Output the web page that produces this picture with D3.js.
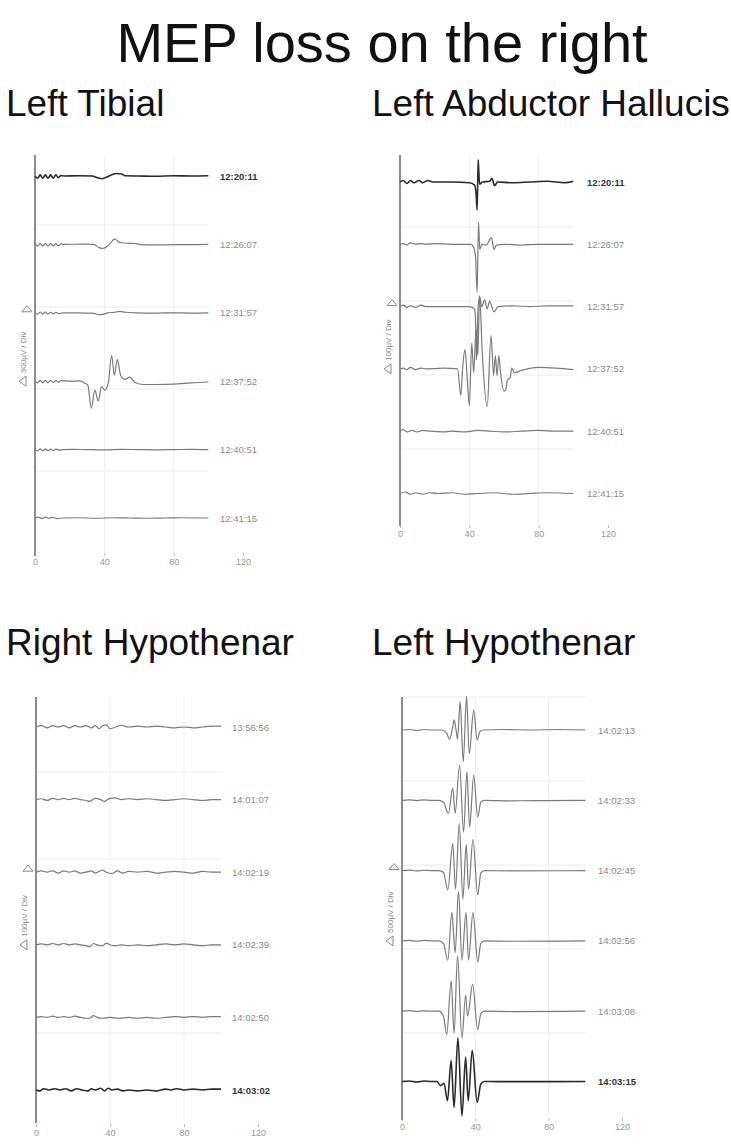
<!DOCTYPE html>
<html><head><meta charset="utf-8">
<script src="https://cdn.jsdelivr.net/npm/d3@7"></script>
<style>body{margin:0;background:#fff}svg{display:block}</style>
</head><body><svg id="c" width="731" height="1144"></svg>
<script>
// ---------------- data ----------------
const chartTitle = "MEP loss on the right";
const panelTitles = ["Left Tibial", "Left Abductor Hallucis", "Right Hypothenar", "Left Hypothenar"];
const xTicks = [0, 40, 80, 120];
const gainLabels = ["300µV / Div", "100µV / Div", "100µV / Div", "500µV / Div"];
const gainUV = [300, 100, 100, 500];
const darkTrace = [0, 0, 5, 5];

const tibialTimes = ["12:20:11", "12:26:07", "12:31:57", "12:37:52", "12:40:51", "12:41:15"];
const tibialTraces = [
  [[0,0],[1.5,-8],[3,4],[4.5,-8],[6,4],[7.5,-8],[9,4],[10.5,-8],[12,4],[13.5,-6],[15,2],[17,0],[25,1],[33,0],[36,-6],[38.5,-10],[41,-5],[44,4],[47,9],[50,7],[52,1],[60,0],[70,-1],[80,1],[90,0],[100,1]],
  [[0,0],[1.5,-6],[3,3],[4.5,-6],[6,3],[7.5,-6],[9,3],[10.5,-6],[12,3],[13.5,-5],[15,2],[17,0],[28,1],[34,0],[37,-12],[39,-15],[41,-10],[43,0],[46,20],[48,10],[50,6],[54,4],[58,3],[62,-1],[70,-2],[80,-1],[90,-1],[100,0]],
  [[0,0],[1.5,-5],[3,3],[4.5,-5],[6,3],[7.5,-5],[9,2],[10.5,-4],[12,2],[14,-3],[16,0],[25,0],[34,-2],[37,-7],[39,-6],[42,0],[46,2],[49,5],[52,2],[58,0],[70,-1],[80,0],[90,-1],[100,0]],
  [[0,0],[1.5,-6],[3,3],[4.5,-6],[6,3],[7.5,-6],[9,3],[10.5,-5],[12,3],[13.5,-4],[15,2],[20,0],[25,1],[26.3,0],[29,-8],[30.5,-15],[32.5,-99],[34.5,-33],[36.5,-73],[38.4,-20],[40.3,-33],[42.3,-7],[44.2,95],[45.8,22],[47.5,80],[49.4,22],[51.9,7],[54.8,15],[57.7,-5],[62.5,-12],[70,-12],[80,-11],[90,-6],[100,-3]],
  [[0,0],[1.5,-5],[3,3],[4.5,-5],[6,3],[7.5,-4],[9,2],[10.5,-4],[12,2],[14,-2],[16,0],[22,1],[30,0],[40,-1],[50,1],[60,0],[70,-1],[80,0],[90,1],[100,0]],
  [[0,0],[2,3],[4,-2],[6,3],[8,-1],[10,2],[13,-2],[16,0],[25,1],[35,-1],[45,1],[55,0],[65,-1],[75,0],[85,1],[100,0]]
];

const hallucisTimes = ["12:20:11", "12:26:07", "12:31:57", "12:37:52", "12:40:51", "12:41:15"];
const hallucisTraces = [
  [[0,0],[2,2],[4,-2],[6,2],[8,-1],[11,2],[13,-1],[16,2],[19,0],[30,0],[40,-1],[42.9,-4],[43.9,-16],[44.5,-38],[45.1,30],[45.9,-3],[47.5,0],[51.7,1],[53,5],[54.6,-5],[56.2,0],[65,-1],[75,0],[85,1],[95,-1],[100,1]],
  [[0,0],[2,1],[4,-1],[6,2],[9,0],[12,1],[15,0],[20,1],[30,0],[41,0],[42.5,-4],[43.5,-14],[44.5,-65],[45.3,30],[46,-7],[47.2,0],[49.8,-1],[52.7,9],[54.2,-7],[55.6,-1],[60,0],[70,-1],[80,0],[90,0],[100,0]],
  [[0,0],[2,2],[4,-1],[6,1],[9,-1],[12,2],[15,0],[25,0],[40,0],[42.9,-3],[43.5,-14],[44.1,-72],[44.9,-9],[45.9,14],[47.2,0],[48.8,9],[50.3,-3],[51.7,7],[54.2,-7],[56.6,0],[65,1],[75,0],[85,1],[100,1]],
  [[0,0],[2,1],[4,-1],[6,2],[9,-1],[12,1],[15,0],[25,1],[33.2,0],[35.1,-36],[36.1,0],[37.5,26],[38.6,-5],[40,-50],[41.4,35],[42.5,-5],[43.9,53],[44.9,18],[45.9,99],[47.5,20],[50.3,-51],[52.5,45],[54,-9],[55,18],[56,-9],[57,18],[58,-5],[60,-30],[61,-28],[62,-15],[63.5,-12],[64.5,1],[66,-5],[70,-2],[80,2],[90,1],[100,-1]],
  [[0,0],[2,2],[4,-1],[7,1],[10,-1],[13,1],[17,0],[25,-1],[30,0],[38,-1],[45,1],[52,0],[60,-1],[70,0],[80,1],[90,0],[100,0]],
  [[0,0],[3,2],[6,-1],[9,1],[13,-1],[17,1],[22,0],[30,1],[37,-1],[45,0],[55,1],[65,-1],[75,0],[85,1],[100,0]]
];

const rightHypoTimes = ["13:56:56", "14:01:07", "14:02:19", "14:02:39", "14:02:50", "14:03:02"];
const rightHypoTraces = [
  [[0,0],[3,1.5],[6,-1],[9,1.5],[12,0],[15,1.5],[18,-1],[21,1.5],[24,0],[27,1.5],[30,-1],[32,1.5],[34,-2],[36,1.5],[38,2.5],[40,-2],[43,0],[46,2],[50,0],[55,1],[60,0],[65,1],[70,0],[75,-1],[80,0],[85,-1],[90,0],[95,1],[100,1]],
  [[0,0],[3,1],[6,-1],[9,1.5],[12,0],[15,1.5],[18,0],[21,1.5],[24,0],[27,-1],[29,-2],[32,1.5],[35,0],[37,-2],[40,1.5],[43,2],[46,0],[50,1],[55,0],[60,1],[65,0],[70,-1],[75,0],[80,1],[85,0],[90,-1],[95,0],[100,0]],
  [[0,0],[3,1.5],[6,0],[9,1.5],[12,-1],[15,1.5],[18,0],[21,1.5],[24,-1],[27,0],[30,1.5],[32,-1],[36,2.5],[38,0],[41,-1.5],[44,1.5],[47,-1],[50,1],[55,0],[60,1],[65,-1],[70,0],[75,1],[80,0],[85,-1],[90,1],[95,0],[100,0]],
  [[0,0],[3,1],[6,0],[9,1.5],[12,0],[15,1.5],[18,0],[21,1],[24,0],[27,-1],[29,-2],[31,1.5],[33,0],[36,-1],[38,2],[40,0],[43,-1],[46,0],[50,-1],[55,0],[60,-1],[65,0],[70,1],[75,0],[80,1],[85,0],[90,-1],[95,0],[100,0]],
  [[0,0],[3,1],[6,0],[9,1.5],[12,0],[15,1],[18,0],[21,1.5],[24,0],[27,-1],[29,-1],[31,2],[33,0],[36,-1],[40,0],[45,-1],[50,0],[55,-1],[60,0],[65,-1],[70,0],[75,1],[80,0],[85,1],[90,0],[95,1],[100,1]],
  [[0,0],[2,-1],[4,1.5],[7,0],[10,1.5],[13,0],[16,1.5],[19,-1],[22,1.5],[25,0],[28,-1],[30,1.5],[32,0],[35,2],[37,-1],[39,2],[41,0],[44,1],[47,-1],[50,0],[55,-1],[60,0],[65,-1],[70,1],[73,0],[76,1.5],[80,0],[85,1],[90,0],[95,1],[100,1]]
];

const leftHypoTimes = ["14:02:13", "14:02:33", "14:02:45", "14:02:56", "14:03:08", "14:03:15"];
const leftHypoTraces = [
  [[0,0],[4,3],[8,-3],[12,3],[16,0],[21.7,0],[24.4,-20],[25.9,-55],[27.7,20],[28.4,60],[29.5,0],[30.3,-55],[31.7,170],[33.4,-190],[35.2,200],[36.7,-140],[39.1,120],[41,-60],[42.6,-8],[44.6,0],[55,3],[70,0],[85,3],[100,0]],
  [[0,0],[4,3],[8,-2],[12,3],[16,0],[20,0],[22.6,-12],[25.3,-78],[27.7,72],[29,-78],[31.4,210],[33.6,-190],[35.4,170],[36.9,-160],[39.1,150],[41.3,-100],[43,-10],[45,0],[60,-3],[75,-2],[100,0]],
  [[0,0],[4,3],[8,-2],[12,2],[16,0],[20,0],[22.6,-10],[25,-115],[27.7,160],[29.2,-110],[31.2,280],[33.2,-170],[35,155],[36.3,-110],[38.7,185],[41.3,-145],[43,-15],[45,0],[60,-2],[100,0]],
  [[0,0],[4,3],[8,-2],[12,3],[16,0],[20,0],[22.6,-15],[25,-115],[27.2,170],[29,-70],[30.8,295],[32.7,-115],[34.9,170],[36.3,-115],[38.7,170],[41.3,-125],[43,-15],[45,0],[60,-2],[100,0]],
  [[0,0],[4,3],[8,-2],[12,2],[16,0],[20,0],[22.6,-30],[24.4,-140],[26.8,180],[28.4,-130],[30.3,330],[32.7,-160],[34.7,95],[35.8,-30],[38.5,160],[41.3,-110],[43,-15],[45,0],[60,-2],[100,0]],
  [[0,0],[4,3],[8,-3],[12,3],[16,0],[19,0],[21.1,-25],[22.9,-10],[24.8,-115],[26.8,125],[28.4,-155],[30.5,260],[32.7,-205],[34.7,145],[36.1,-115],[38.3,185],[41,-125],[43,-15],[45,0],[60,-1],[100,0]]
];

const panelTimes = [tibialTimes, hallucisTimes, rightHypoTimes, leftHypoTimes];
const panelTraces = [tibialTraces, hallucisTraces, rightHypoTraces, leftHypoTraces];

// ---------------- layout (pixels) ----------------
const layout = [
  {x0: 35,  x120: 243, top: 155, bottom: 553, base0: 176, step: 68.4, divPx: 82, tickY: 553, labelX: 220, titleX: 6,   titleY: 116},
  {x0: 400, x120: 608, top: 155, bottom: 523, base0: 182, step: 62.3, divPx: 74, tickY: 525, labelX: 587, titleX: 372, titleY: 116},
  {x0: 36,  x120: 258, top: 697, bottom: 1120, base0: 727, step: 72.6, divPx: 87, tickY: 1124, labelX: 232, titleX: 6,   titleY: 655},
  {x0: 402, x120: 622, top: 697, bottom: 1117, base0: 730, step: 70.3, divPx: 84, tickY: 1118, labelX: 598, titleX: 372, titleY: 655}
];

const FONT = "'Liberation Sans', Arial, Helvetica, sans-serif";
const svg = d3.select("#c");

svg.append("text")
  .attr("x", 382).attr("y", 62)
  .attr("text-anchor", "middle")
  .attr("font-family", FONT).attr("font-size", 56)
  .attr("fill", "#111")
  .text(chartTitle);

panelTitles.forEach((title, p) => {
  const L = layout[p];
  svg.append("text")
    .attr("x", L.titleX).attr("y", L.titleY)
    .attr("font-family", FONT).attr("font-size", 37)
    .attr("fill", "#111")
    .text(title);

  const g = svg.append("g");
  const x = d3.scaleLinear().domain([0, 120]).range([L.x0, L.x120]);

  // horizontal grid lines each division, counted up from bottom
  const yDiv = d3.scaleLinear().domain([0, 1]).range([L.bottom, L.bottom - L.divPx]);
  const nDiv = Math.floor((L.bottom - L.top) / L.divPx);
  g.append("g").selectAll("line").data(d3.range(1, nDiv + 1)).join("line")
    .attr("x1", x(0)).attr("x2", x(100))
    .attr("y1", d => yDiv(d)).attr("y2", d => yDiv(d))
    .attr("stroke", "#ececec").attr("stroke-width", 1);
  // vertical grid lines
  g.append("g").selectAll("line").data(xTicks.filter(t => t > 0 && t < 120)).join("line")
    .attr("x1", d => x(d)).attr("x2", d => x(d))
    .attr("y1", L.top).attr("y2", L.bottom)
    .attr("stroke", "#efefef").attr("stroke-width", 1);

  // x axis ticks & labels
  const ax = g.append("g").attr("transform", `translate(0,${L.tickY})`)
    .call(d3.axisBottom(x).tickValues(xTicks).tickSize(3).tickPadding(3));
  ax.select(".domain").remove();
  ax.selectAll(".tick line").attr("stroke", "#bbb");
  ax.selectAll(".tick text").attr("fill", "#999").attr("font-family", FONT).attr("font-size", 9);

  // vertical axis line
  g.append("line")
    .attr("x1", L.x0).attr("x2", L.x0)
    .attr("y1", L.top).attr("y2", L.bottom + 3)
    .attr("stroke", "#8c8c8c").attr("stroke-width", 2);

  // traces
  panelTraces[p].forEach((tr, i) => {
    const base = L.base0 + i * L.step;
    const y = d3.scaleLinear().domain([0, gainUV[p]]).range([base, base - L.divPx]);
    const line = d3.line().x(d => x(d[0])).y(d => y(d[1])).curve(d3.curveMonotoneX);
    const dark = i === darkTrace[p];
    g.append("path").datum(tr)
      .attr("d", line)
      .attr("fill", "none")
      .attr("stroke", dark ? "#2a2a2a" : "#7a7a7a")
      .attr("stroke-width", dark ? 1.6 : 1.2)
      .attr("stroke-linejoin", "round");
    g.append("text")
      .attr("x", L.labelX).attr("y", base + 3.5)
      .attr("font-family", FONT).attr("font-size", 9.5)
      .attr("font-weight", dark ? "bold" : "normal")
      .attr("fill", dark ? "#333" : "#8a8a8a")
      .text(panelTimes[p][i]);
  });

  // gain marker & label
  const b3 = L.base0 + 2 * L.step, b4 = L.base0 + 3 * L.step;
  g.append("path")
    .attr("d", `M${L.x0 - 13},${b3 - 1} L${L.x0 - 8},${b3 - 7} L${L.x0 - 3},${b3 - 1} Z`)
    .attr("fill", "none").attr("stroke", "#888").attr("stroke-width", 1);
  g.append("path")
    .attr("d", `M${L.x0 - 16},${b4} L${L.x0 - 9},${b4 - 5} L${L.x0 - 9},${b4 + 5} Z`)
    .attr("fill", "none").attr("stroke", "#888").attr("stroke-width", 1);
  g.append("text")
    .attr("transform", `translate(${L.x0 - 9},${b4 - 8}) rotate(-90)`)
    .attr("font-family", FONT).attr("font-size", 8)
    .attr("fill", "#888")
    .text(gainLabels[p]);
});
</script>
</body></html>
